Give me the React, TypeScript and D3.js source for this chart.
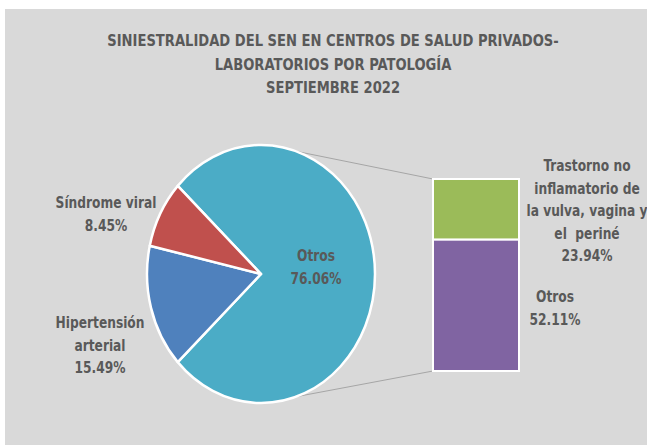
import React, { useEffect, useRef } from "react";
import * as d3 from "d3";

// pie data (outer pie)
const pieLabels = ["Otros", "Hipertensión arterial", "Síndrome viral"];
const pieValues = [76.06, 15.49, 8.45];
const pieColors = ["#4bacc6", "#4f81bd", "#c0504d"];

// breakdown of "Otros" (stacked bar)
const barLabels = ["Otros", "Trastorno no inflamatorio de la vulva, vagina y el  periné"];
const barValues = [52.11, 23.94];
const barColors = ["#8064a2", "#9bbb59"];

const titleLines = [
  "SINIESTRALIDAD DEL SEN EN CENTROS DE SALUD PRIVADOS-",
  "LABORATORIOS POR PATOLOGÍA",
  "SEPTIEMBRE 2022",
];

const FONT = "'DejaVu Sans Condensed', 'DejaVu Sans', sans-serif";
const TXT = "#595959";
const STRETCH = 1.13; // text in the original looks vertically stretched

const App = () => {
  const ref = useRef<SVGSVGElement>(null);

  useEffect(() => {
    const svg = d3.select(ref.current);
    svg.selectAll("*").remove();

    const W = 647, H = 445;
    svg.append("rect").attr("x", 5).attr("y", 9).attr("width", W - 5).attr("height", H - 9).attr("fill", "#d9d9d9");

    const textBlock = (x: number, y0: number, lines: string[], size: number, step: number) => {
      svg
        .append("g")
        .selectAll("text")
        .data(lines)
        .join("text")
        .attr("transform", (d, i) => `translate(${x},${y0 + i * step}) scale(1,${STRETCH})`)
        .attr("text-anchor", "middle")
        .attr("font-family", FONT)
        .attr("font-weight", "bold")
        .attr("font-size", size)
        .attr("fill", TXT)
        .style("white-space", "pre")
        .text((d) => d);
    };

    // title
    textBlock(333, 46, titleLines, 14.6, 23.5);

    // pie (drawn as slightly tall ellipse like the original)
    const cx = 261, cy = 274, rx = 114, ry = 129;
    const otrosFrac = pieValues[0] / d3.sum(pieValues);
    const start = Math.PI / 2 - otrosFrac * Math.PI;
    const pie = d3.pie<number>().sort(null).startAngle(start).endAngle(start + 2 * Math.PI);
    const arc = d3.arc<d3.PieArcDatum<number>>().innerRadius(0).outerRadius(rx);

    // connector lines from the pie to the bar
    const barX = 433, barW = 86, barTop = 179, barBottom = 371;
    const y = d3.scaleLinear().domain([0, d3.sum(barValues)]).range([barBottom, barTop]);
    const ellipsePt = (deg: number) => {
      const a = (deg * Math.PI) / 180;
      return [cx + rx * Math.sin(a), cy - ry * Math.cos(a)];
    };
    const p1 = ellipsePt(18), p2 = ellipsePt(162);
    svg.append("line").attr("x1", p1[0]).attr("y1", p1[1]).attr("x2", barX).attr("y2", y(d3.sum(barValues)))
      .attr("stroke", "#a6a6a6").attr("stroke-width", 1);
    svg.append("line").attr("x1", p2[0]).attr("y1", p2[1]).attr("x2", barX).attr("y2", y(0))
      .attr("stroke", "#a6a6a6").attr("stroke-width", 1);

    svg
      .append("g")
      .attr("transform", `translate(${cx},${cy}) scale(1,${ry / rx})`)
      .selectAll("path")
      .data(pie(pieValues))
      .join("path")
      .attr("d", arc)
      .attr("fill", (d, i) => pieColors[i])
      .attr("stroke", "#fff")
      .attr("stroke-width", 2.5)
      .attr("vector-effect", "non-scaling-stroke")
      .attr("stroke-linejoin", "round");

    // stacked bar
    const stacked = barValues.map((v, i) => ({ v, y0: d3.sum(barValues.slice(0, i)), y1: d3.sum(barValues.slice(0, i + 1)) }));
    svg
      .append("g")
      .selectAll("rect")
      .data(stacked)
      .join("rect")
      .attr("x", barX)
      .attr("y", (d) => y(d.y1))
      .attr("width", barW)
      .attr("height", (d) => y(d.y0) - y(d.y1))
      .attr("fill", (d, i) => barColors[i])
      .attr("stroke", "#fff")
      .attr("stroke-width", 2);

    const pct = (v: number) => v.toFixed(2) + "%";
    const LS = 13.6;

    textBlock(316, 261, [pieLabels[0], pct(pieValues[0])], LS, 22.5);
    textBlock(100, 328, ["Hipertensión", "arterial", pct(pieValues[1])], LS, 22.5);
    textBlock(106, 208, ["Síndrome viral", pct(pieValues[2])], LS, 22.5);
    textBlock(587, 171, ["Trastorno no", "inflamatorio de", "la vulva, vagina y", "el  periné", pct(barValues[1])], LS, 22.5);
    textBlock(555, 302, [barLabels[0], pct(barValues[0])], LS, 22.5);
  }, []);

  return <svg ref={ref} width={647} height={445} style={{ position: "absolute", left: 0, top: 0 }} />;
};

export default App;
